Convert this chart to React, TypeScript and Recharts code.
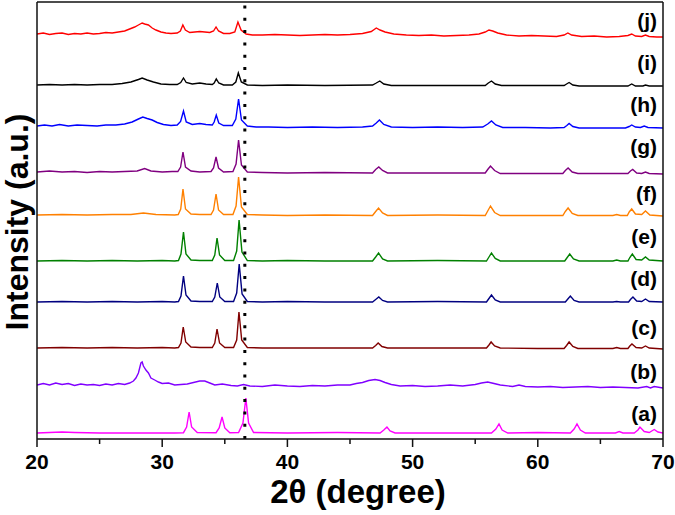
import { LineChart, Line, XAxis, YAxis, ReferenceLine, ReferenceDot } from 'recharts'

// XRD patterns (a)-(j): [2θ, intensity above own baseline]
const PATTERN_A = [
  [20, 0], [21, 0.5], [22, 1], [23, 0.5], [25, 0], [28, 0], [31, 0], [31.7, 0.3], [31.95, 6], [32.15, 21], [32.35, 6],
  [32.8, 0.5], [34.3, 0.3], [34.55, 5], [34.78, 16], [35.0, 5], [35.4, 0.3], [36.1, 0.5], [36.45, 10], [36.68, 35],
  [36.9, 10], [37.3, 0.5], [40, 0], [44, 0.5], [47.4, 0], [47.7, 3], [47.95, 6], [48.2, 2], [48.6, 0], [52, 0],
  [56.3, 0], [56.65, 4], [56.9, 9], [57.15, 3], [57.6, 0], [60, 0.5], [62.6, 0], [62.9, 4], [63.13, 9], [63.4, 3],
  [63.8, 0], [66.2, 0], [66.5, 1.5], [66.8, 0], [67.7, 0], [68.0, 3], [68.16, 6], [68.5, 1.5], [68.9, 0.5],
  [69.3, 3.5], [69.6, 1], [70, 0],
]
const PATTERN_B = [
  [20, 0], [20.5, 1.5], [21, 0], [21.5, 2], [22, 0.5], [22.5, 1.5], [23, -0.5], [23.5, 1], [24, 0], [24.5, 0.5],
  [25, -0.5], [25.5, 1], [26, 0], [26.5, 1.5], [27, 0.5], [27.4, 2], [27.7, 4], [27.9, 7], [28.1, 12], [28.3, 22],
  [28.4, 23], [28.5, 19], [28.7, 15], [28.9, 12], [29.1, 7], [29.4, 5], [29.7, 3], [30, 1.5], [30.5, 2], [31, 0],
  [31.5, 0.5], [32, 1], [32.5, 2.5], [33, 4], [33.4, 4], [33.8, 2], [34.2, 0], [34.8, 1], [35.5, -0.5], [36, -1],
  [36.5, 0.5], [37, -1], [38, -1.5], [39, 0], [40, -1], [41, -1.5], [42, -0.5], [43, -1], [44, 0], [45, 0],
  [45.5, 1.5], [46, 2.5], [46.5, 4.5], [47, 5.5], [47.4, 4.5], [47.8, 2.5], [48.3, 0.5], [49, -1], [50, -0.5],
  [51, -1.5], [52, -1], [53, 0], [54, -1], [55, 0.5], [55.5, 2], [56, 3], [56.5, 1.5], [57, 0], [58, -1.5],
  [58.5, 0], [59, -1.5], [60, -2], [61, -1.5], [62, -2.5], [63, -2], [64, -1.5], [65, -2.5], [66, -2], [67, -2.5],
  [68, -3], [68.7, -1.5], [69, -3], [69.3, -1.5], [70, -3],
]
const PATTERN_C = [
  [20, 0], [22, 0.5], [24, 0], [26, 0.5], [28, 0], [30, 0.5], [31, 0], [31.3, 0.5], [31.5, 5], [31.68, 21], [31.88, 6],
  [32.3, 1], [33, 0.5], [34.0, 0.5], [34.2, 5], [34.38, 19], [34.58, 5], [35, 0.5], [35.7, 0.5], [35.95, 8],
  [36.13, 36], [36.35, 8], [36.8, 0.5], [38, 0], [40, 0], [43, 0], [46.8, 0], [47.05, 2.5], [47.25, 5], [47.55, 1.5],
  [48, 0], [52, 0], [55.9, 0], [56.1, 3], [56.27, 6], [56.55, 2], [57, 0], [60, -0.5], [62.1, -0.5], [62.3, 2.5],
  [62.5, 6], [62.8, 1.5], [63.2, -0.5], [66, -0.5], [66.3, 0.5], [66.6, -0.5], [67.2, -0.5], [67.35, 2], [67.52, 4],
  [67.85, 0.5], [68.3, 0], [68.6, 2], [68.9, 0], [70, -1],
]
const PATTERN_D = [
  [20, 0], [22, 0.5], [24, 0], [26, 0.5], [28, 0], [30, 0.5], [31, 0], [31.3, 0.5], [31.5, 6], [31.7, 26], [31.9, 7],
  [32.3, 1], [33, 0.5], [34.0, 0.5], [34.2, 5], [34.4, 19], [34.6, 5], [35, 0.5], [35.7, 0.5], [35.95, 9],
  [36.15, 38], [36.38, 8], [36.8, 0.5], [38, 0], [40, 0.5], [43, 0], [46.8, 0], [47.05, 2.5], [47.3, 5], [47.6, 1.5],
  [48, 0], [52, 0.5], [55.9, 0], [56.1, 3.5], [56.3, 7], [56.6, 2], [57, 0], [60, 0], [62.2, 0], [62.4, 3],
  [62.6, 6], [62.9, 1.5], [63.3, 0], [66, 0], [66.3, 0.5], [66.6, 0], [67.25, 0], [67.4, 2.5], [67.6, 5],
  [67.9, 1], [68.3, 0.5], [68.6, 3], [68.9, 0.5], [70, 0],
]
const PATTERN_E = [
  [20, 0], [22, 0.5], [24, 0], [26, 0.5], [28, 0], [30, 0.5], [31, 0], [31.3, 0.5], [31.5, 7], [31.7, 29], [31.9, 7],
  [32.3, 1], [33, 0.5], [34.0, 0.5], [34.2, 6], [34.38, 23], [34.58, 6], [35, 0.5], [35.7, 0.5], [35.95, 10],
  [36.14, 41], [36.37, 9], [36.8, 0.5], [38, 0], [40, 0.5], [43, 0], [46.8, 0], [47.05, 4], [47.28, 8], [47.6, 2],
  [48, 0], [52, 0.5], [55.9, 0], [56.1, 4], [56.3, 8], [56.6, 2.5], [57, 0], [60, 0], [62.15, 0], [62.35, 3.5],
  [62.55, 7], [62.85, 2], [63.3, 0], [66, 0], [66.3, 1], [66.6, 0], [67.2, 0], [67.35, 3.5], [67.55, 7],
  [67.85, 1.5], [68.3, 1], [68.6, 4], [68.9, 1], [70, 0],
]
const PATTERN_F = [
  [20, 0], [22, 0.5], [24, 0], [26, 0.5], [27.5, 0.5], [28.5, 2], [29.5, 0.5], [31, 0], [31.28, 0.5], [31.48, 6],
  [31.66, 26], [31.86, 6], [32.3, 1], [33, 0.5], [33.9, 0.5], [34.1, 5], [34.3, 21], [34.5, 5], [34.9, 0.5],
  [35.65, 0.5], [35.9, 9], [36.1, 38], [36.33, 8], [36.8, 0.5], [38, 0], [40, -0.5], [43, 0], [46.8, -0.5],
  [47.05, 3.5], [47.28, 7], [47.6, 2], [48, -0.5], [52, 0], [55.8, -0.5], [56.0, 4], [56.22, 9], [56.55, 2.5],
  [57, -0.5], [60, -0.5], [62.0, -0.5], [62.2, 3.5], [62.42, 7], [62.75, 1.5], [63.2, -0.5], [66, -0.5],
  [66.3, 0.5], [66.6, -0.5], [67.15, -0.5], [67.3, 3], [67.5, 6], [67.8, 1], [68.3, 0.5], [68.6, 4], [68.95, 0],
  [70, -1],
]
const PATTERN_G = [
  [20, 0], [21, 1], [22, 0], [23, 0.5], [24, -0.5], [25, 0.5], [26, 0], [27, 0.5], [28, 1], [28.6, 3.5], [29.1, 1],
  [30, 0], [30.8, 0.5], [31.25, 0.5], [31.47, 5], [31.66, 20], [31.86, 5], [32.3, 1], [33, 0], [33.9, 0.5],
  [34.1, 4], [34.3, 15], [34.5, 4], [34.9, 0], [35.65, 0.5], [35.9, 8], [36.1, 32], [36.33, 7], [36.8, 0],
  [38, -0.5], [40, -1], [43, -0.5], [46.8, -1], [47.05, 2.5], [47.3, 5], [47.6, 1.5], [48, -1], [52, -1],
  [55.8, -1], [56.0, 2.5], [56.22, 6], [56.55, 1.5], [57, -1.5], [60, -1.5], [62.0, -1.5], [62.2, 1.5],
  [62.42, 4], [62.75, 0], [63.2, -1.5], [66, -1.5], [67.2, -1.5], [67.4, 1], [67.58, 2.5], [67.9, -1],
  [68.3, -1.5], [68.6, 0], [68.9, -1.5], [70, -2],
]
const PATTERN_H = [
  [20, 0], [20.6, 1], [21.2, 0], [21.8, 1.5], [22.5, 0], [23.2, 1], [24, 0.5], [24.8, 0], [25.5, 1], [26.3, 1],
  [27, 2], [27.6, 4], [28.1, 7], [28.45, 9], [28.8, 7.5], [29.2, 6], [29.6, 3.5], [30.1, 1.5], [30.7, 0.5],
  [31.2, 1], [31.47, 4.5], [31.7, 15], [31.92, 4], [32.4, 1.5], [33.0, 2.5], [33.5, 1.5], [34.0, 1], [34.15, 4],
  [34.32, 11], [34.52, 3], [34.9, 0.5], [35.6, 0.5], [35.88, 7], [36.1, 27], [36.33, 6], [36.8, 0], [37.5, -1],
  [38.5, -1], [40, -1.5], [42, -1], [44, -1.5], [46, -1], [46.8, 0], [47.1, 3], [47.35, 6], [47.7, 1.5],
  [48.3, -1], [50, -1.5], [52, -1], [54, -1.5], [55.6, -1], [56.0, 2], [56.3, 5], [56.65, 1], [57.2, -1.5],
  [59, -1.5], [61, -2], [62.1, -1.5], [62.32, 0.5], [62.5, 2.5], [62.8, -0.5], [63.3, -2], [65, -2], [67, -2],
  [67.3, -0.5], [67.5, 1], [67.8, -1], [68.2, -1.5], [68.5, 0], [68.8, -1.5], [70, -2],
]
const PATTERN_I = [
  [20, 0], [21, 0.5], [22, 0], [23, 0.5], [24, 0], [25, 0.5], [26, 0.5], [26.8, 1.5], [27.5, 3], [28.1, 5.5],
  [28.4, 7], [28.8, 5], [29.3, 3], [29.9, 1], [30.6, 0.5], [31.2, 0.5], [31.48, 2.5], [31.7, 7], [31.92, 2.5],
  [32.4, 1], [33.0, 2], [33.5, 1], [34.0, 0.5], [34.15, 2], [34.32, 6], [34.52, 2], [34.9, 0], [35.6, 0],
  [35.88, 3], [36.08, 12], [36.32, 3], [36.8, 0], [38, -0.5], [40, 0], [43, -0.5], [46.8, 0], [47.1, 2],
  [47.38, 4], [47.7, 1], [48.3, -0.5], [52, -0.5], [55.8, -0.5], [56.05, 2], [56.3, 4], [56.6, 1], [57.1, -0.5],
  [60, -0.5], [62.1, -0.5], [62.3, 1], [62.5, 2.5], [62.8, 0], [63.3, -1], [66, -1], [67.2, -1], [67.5, 1],
  [67.8, -1], [68.4, -1], [68.6, 0], [68.9, -1], [70, -1],
]
const PATTERN_J = [
  [20, 0], [20.5, 1], [21, -0.5], [21.5, 0.5], [22, 1], [22.5, -0.5], [23, 0.5], [23.5, 0], [24, 1], [24.5, 0],
  [25, 0.5], [25.5, 1.5], [26, 1], [26.5, 2], [27, 3], [27.4, 5], [27.8, 7], [28.1, 9], [28.4, 11], [28.6, 10],
  [28.9, 9], [29.2, 6], [29.5, 4], [29.9, 2], [30.3, 1], [30.7, 0.5], [31.2, 1], [31.45, 3], [31.65, 9], [31.85, 4],
  [32.2, 1.5], [32.6, 2], [33, 2.5], [33.4, 2], [33.8, 1.5], [34.1, 3], [34.3, 7], [34.5, 3], [34.9, 0.5],
  [35.4, 0.5], [35.8, 2], [36.05, 12], [36.3, 4], [36.7, 0], [37.2, -1], [38, -1], [39, -0.5], [40, -1],
  [41, -1.5], [42, -1], [43, -0.5], [44, -1], [45, -0.5], [46, 0.5], [46.7, 2.5], [47.1, 6], [47.4, 4],
  [47.8, 2], [48.5, 0], [49.5, -1], [50.5, -1.5], [51.5, -1], [52.5, -2], [53.5, -1.5], [54.5, -1], [55.3, 0],
  [55.8, 2], [56.1, 4], [56.4, 3], [56.8, 1], [57.5, -1], [58.5, -2], [59.5, -1.5], [60.5, -2], [61.5, -2.5],
  [62.1, -1], [62.4, 1], [62.7, -1], [63.5, -2.5], [64.5, -2], [65.5, -3], [66.5, -2.5], [67.2, -1.5],
  [67.5, 0], [67.8, -2], [68.3, -2.5], [68.6, -1], [68.9, -2.5], [69.5, -3], [70, -3],
]

const PATTERNS = [PATTERN_A, PATTERN_B, PATTERN_C, PATTERN_D, PATTERN_E, PATTERN_F, PATTERN_G, PATTERN_H, PATTERN_I, PATTERN_J]
const SAMPLE_LABELS = ['(a)', '(b)', '(c)', '(d)', '(e)', '(f)', '(g)', '(h)', '(i)', '(j)']
// vertical stacking offset of each pattern
const OFFSETS = [6, 54, 91, 137, 178, 224, 267, 313, 354, 405]
// where the sample label sits (same units as the y axis)
const LABEL_Y = [24, 66, 110, 159, 201, 244, 291, 333, 375, 417]
const COLORS = ['#ff00ff', '#8000ff', '#800000', '#000080', '#008000', '#ff8000', '#800080', '#0000ff', '#000000', '#ff0000']

const X_TICKS = [20, 25, 30, 35, 40, 45, 50, 55, 60, 65, 70]
const MAJOR_TICKS = [20, 30, 40, 50, 60, 70]
const REF_2THETA = 36.6

const FONT = 'Arial, "Liberation Sans", sans-serif'
const AXIS_COLOR = '#111'

const series = PATTERNS.map((pts, i) => pts.map(([x, y]) => ({ x, y: y + OFFSETS[i] })))

function XTick(props: any) {
  const { x, y, payload } = props
  const major = MAJOR_TICKS.includes(payload.value)
  return (
    <g>
      <line x1={x} y1={y} x2={x} y2={y + (major ? 8 : 5)} stroke={AXIS_COLOR} strokeWidth={1.5} />
      {major && (
        <text x={x} y={y + 30} textAnchor="middle" fontFamily={FONT} fontWeight="bold" fontSize={21} fill="#000">
          {payload.value}
        </text>
      )}
    </g>
  )
}

export default function App() {
  return (
    <div style={{ position: 'absolute', left: 0, top: 0 }}>
      <LineChart width={675} height={515} margin={{ top: 1, right: 11, bottom: 46, left: 36 }}>
        <XAxis
          dataKey="x"
          type="number"
          domain={[20, 70]}
          ticks={X_TICKS}
          interval={0}
          allowDataOverflow
          height={30}
          tickSize={0}
          tickMargin={0}
          tickLine={false}
          tick={<XTick />}
          axisLine={{ stroke: AXIS_COLOR, strokeWidth: 1.5 }}
          label={{
            content: () => (
              <text x={358} y={503} textAnchor="middle" fontFamily={FONT} fontWeight="bold" fontSize={33} fill="#000">
                2θ (degree)
              </text>
            ),
          }}
        />
        <XAxis
          xAxisId="top"
          orientation="top"
          type="number"
          domain={[20, 70]}
          height={1}
          tick={false}
          tickLine={false}
          axisLine={{ stroke: AXIS_COLOR, strokeWidth: 1.5 }}
        />
        <YAxis
          type="number"
          domain={[0, 437]}
          width={1}
          tick={false}
          tickLine={false}
          axisLine={{ stroke: AXIS_COLOR, strokeWidth: 1.5 }}
          label={{
            content: () => (
              <text
                x={28}
                y={222}
                transform="rotate(-90, 28, 222)"
                textAnchor="middle"
                fontFamily={FONT}
                fontWeight="bold"
                fontSize={32}
                fill="#000"
              >
                Intensity (a.u.)
              </text>
            ),
          }}
        />
        <YAxis
          yAxisId="right"
          orientation="right"
          type="number"
          domain={[0, 437]}
          width={1}
          tick={false}
          tickLine={false}
          axisLine={{ stroke: AXIS_COLOR, strokeWidth: 1.5 }}
        />
        {series.map((data, i) => (
          <Line
            key={SAMPLE_LABELS[i]}
            data={data}
            dataKey="y"
            type="linear"
            stroke={COLORS[i]}
            strokeWidth={1.4}
            dot={false}
            isAnimationActive={false}
          />
        ))}
        <ReferenceLine x={REF_2THETA} stroke="#000" strokeWidth={3} strokeDasharray="3 9.3" />
        {SAMPLE_LABELS.map((label, i) => (
          <ReferenceDot
            key={label}
            x={70}
            y={LABEL_Y[i]}
            r={0}
            shape={(p: any) => (
              <text x={p.cx - 6} y={p.cy + 6} textAnchor="end" fontFamily={FONT} fontWeight="bold" fontSize={21} fill="#000">
                {label}
              </text>
            )}
          />
        ))}
      </LineChart>
    </div>
  )
}
